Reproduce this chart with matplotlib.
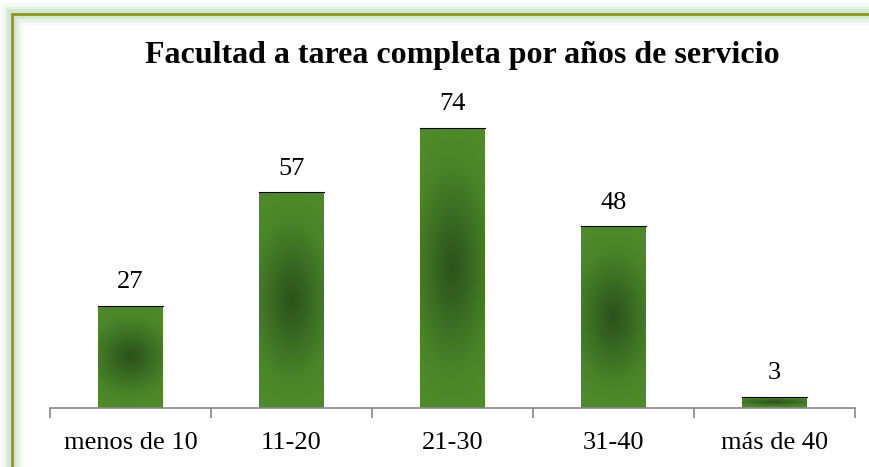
import numpy as np
import matplotlib.pyplot as plt
from matplotlib.patches import Rectangle
from matplotlib.colors import LinearSegmentedColormap

categories = ["menos de 10", "11-20", "21-30", "31-40", "más de 40"]
values = [27, 57, 74, 48, 3]
title = "Facultad a tarea completa por años de servicio"

plt.rcParams['font.family'] = ['Liberation Serif', 'DejaVu Serif']

fig = plt.figure(figsize=(8.69, 4.67), dpi=100)
W, H = 869, 467

# frame with soft green glow (runs off the right and bottom edges)
fx, fy, fw, fh = 12 / W, -4 / H, 870 / W, 457 / H
for lw, a in [(16, 0.10), (11, 0.15), (7, 0.25)]:
    fig.add_artist(Rectangle((fx, fy), fw, fh, transform=fig.transFigure,
                             fill=False, edgecolor='#9cc89c', lw=lw, alpha=a))
fig.add_artist(Rectangle((fx, fy), fw, fh, transform=fig.transFigure,
                         fill=False, edgecolor='#8c9a14', lw=2))

ax = fig.add_axes([50 / W, 59 / H, 805 / W, 303 / H])
ax.set_xlim(-0.5, len(categories) - 0.5)
ax.set_ylim(0, 80)

cmap = LinearSegmentedColormap.from_list('g', ['#2c5219', '#346221', '#3f7424', '#4a8428', '#4e8a2a'])
yy, xx = np.mgrid[-1:1:200j, -1:1:200j]
grad = np.sqrt((xx * 0.6)**2 + yy**2)

width = 0.4
for i, v in enumerate(values):
    x0 = i - width / 2
    rect = Rectangle((x0, 0), width, v, facecolor='none', edgecolor='none')
    ax.add_patch(rect)
    im = ax.imshow(grad, cmap=cmap, extent=(x0, x0 + width, 0, v), aspect='auto',
                   vmin=0, vmax=1.0, interpolation='bilinear', zorder=2)
    im.set_clip_path(rect)
    ax.plot([x0, x0 + width], [v, v], color='black', lw=0.8, zorder=3)
    ax.text(i, v + 3.3, str(v), ha='center', va='bottom', fontsize=19)

ax.set_xticks(range(len(categories)))
ax.set_xticklabels(categories, fontsize=19)
ax.set_xticks(np.arange(-0.5, len(categories)), minor=True)
ax.tick_params(axis='x', which='major', length=0, pad=17)
ax.tick_params(axis='x', which='minor', length=7, color='#888888', width=1.2)
ax.set_yticks([])
for s in ['top', 'right', 'left']:
    ax.spines[s].set_visible(False)
ax.spines['bottom'].set_color('#888888')
ax.spines['bottom'].set_linewidth(1.2)
ax.set_xlim(-0.5, len(categories) - 0.5)

fig.text(462 / W, 1 - 55 / H, title, ha='center', va='center', fontsize=23, fontweight='bold')

fig.savefig('out.png', dpi=100)
